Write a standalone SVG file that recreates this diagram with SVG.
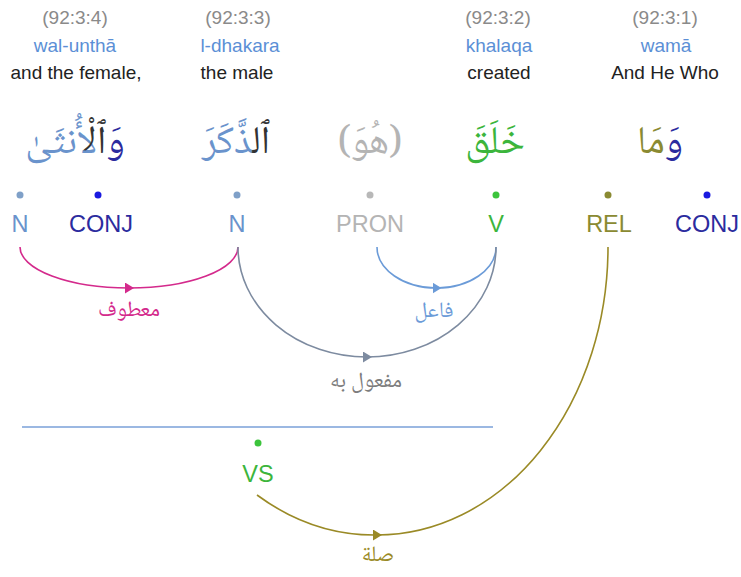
<svg xmlns="http://www.w3.org/2000/svg" width="741" height="577" viewBox="0 0 741 577">
  <style>
    .ref { font-family: "Liberation Sans", Arial, sans-serif; font-size: 19px; fill: #8a8a8a; text-anchor: middle; }
    .tr { font-family: "Liberation Sans", Arial, sans-serif; font-size: 19px; fill: #5b8fd6; text-anchor: middle; }
    .en { font-family: "Liberation Sans", Arial, sans-serif; font-size: 19px; fill: #222; text-anchor: middle; }
    .ar { font-family: "Noto Naskh Arabic", "DejaVu Sans", sans-serif; font-size: 39px; text-anchor: middle; direction: rtl; }
    .tag { font-family: "Liberation Sans", Arial, sans-serif; font-size: 23.5px; text-anchor: middle; }
    .lbl { font-family: "Noto Naskh Arabic", "DejaVu Sans", sans-serif; font-size: 22px; text-anchor: middle; direction: rtl; }
    .arc { fill: none; stroke-width: 1.6; }
    .n { fill: #6a93cc; }
    .conj { fill: #2b2b9e; }
    .pron { fill: #b4b4b4; }
    .v { fill: #3cb53c; }
    .rel { fill: #8a8a32; }
    .art { fill: #333333; }
  </style>
  <defs>
    <marker id="ah-pink" markerWidth="10" markerHeight="12" refX="4" refY="5.5" orient="auto" markerUnits="userSpaceOnUse">
      <path d="M0,0 L9,5.5 L0,11 z" fill="#d42a8c"/>
    </marker>
    <marker id="ah-blue" markerWidth="10" markerHeight="12" refX="4" refY="5.5" orient="auto" markerUnits="userSpaceOnUse">
      <path d="M0,0 L9,5.5 L0,11 z" fill="#6b9bd8"/>
    </marker>
    <marker id="ah-gray" markerWidth="10" markerHeight="12" refX="4" refY="5.5" orient="auto" markerUnits="userSpaceOnUse">
      <path d="M0,0 L9,5.5 L0,11 z" fill="#7d8ba0"/>
    </marker>
    <marker id="ah-olive" markerWidth="10" markerHeight="12" refX="4" refY="5.5" orient="auto" markerUnits="userSpaceOnUse">
      <path d="M0,0 L9,5.5 L0,11 z" fill="#9a8a26"/>
    </marker>
  </defs>

  <rect width="741" height="577" fill="#fff"/>

  <!-- word 4: wal-unthā -->
  <g id="word4">
    <text class="ref" x="75" y="24">(92:3:4)</text>
    <text class="tr" x="75" y="52">wal-unthā</text>
    <text class="en" x="76" y="79">and the female,</text>
    <text class="ar" x="75" y="153"><tspan class="conj">وَ</tspan><tspan class="art">ٱلْ</tspan><tspan class="n">أُنثَىٰ</tspan></text>
  </g>
  <g id="tag-w4-n">
    <circle cx="20" cy="195" r="3.5" fill="#7fa0c8"/>
    <text class="tag n" x="20" y="232">N</text>
  </g>
  <g id="tag-w4-conj">
    <circle cx="98" cy="195" r="3.5" fill="#1a1ae0"/>
    <text class="tag conj" x="101" y="232">CONJ</text>
  </g>

  <!-- word 3: l-dhakara -->
  <g id="word3">
    <text class="ref" x="238" y="24">(92:3:3)</text>
    <text class="tr" x="240" y="52">l-dhakara</text>
    <text class="en" x="237" y="79">the male</text>
    <text class="ar" x="236" y="153"><tspan class="art">ٱل</tspan><tspan class="n">ذَّكَرَ</tspan></text>
  </g>
  <g id="tag-w3-n">
    <circle cx="237" cy="195" r="3.5" fill="#7fa0c8"/>
    <text class="tag n" x="237" y="232">N</text>
  </g>

  <!-- hidden subject pronoun -->
  <g id="pron">
    <text class="ar pron" x="370" y="153">(هُوَ)</text>
    <circle cx="370" cy="195" r="3.5" fill="#b8b8b8"/>
    <text class="tag pron" x="370" y="232">PRON</text>
  </g>

  <!-- word 2: khalaqa -->
  <g id="word2">
    <text class="ref" x="498" y="24">(92:3:2)</text>
    <text class="tr" x="499" y="52">khalaqa</text>
    <text class="en" x="499" y="79">created</text>
    <text class="ar v" x="495" y="153">خَلَقَ</text>
  </g>
  <g id="tag-w2-v">
    <circle cx="496" cy="195" r="3.5" fill="#3cc43c"/>
    <text class="tag v" x="496" y="232">V</text>
  </g>

  <!-- word 1: wamā -->
  <g id="word1">
    <text class="ref" x="665" y="24">(92:3:1)</text>
    <text class="tr" x="666" y="52">wamā</text>
    <text class="en" x="665" y="79">And He Who</text>
    <text class="ar" x="660" y="153"><tspan class="conj">وَ</tspan><tspan class="rel">مَا</tspan></text>
  </g>
  <g id="tag-w1-rel">
    <circle cx="608" cy="195" r="3.5" fill="#8a8a32"/>
    <text class="tag rel" x="609" y="232">REL</text>
  </g>
  <g id="tag-w1-conj">
    <circle cx="707" cy="195" r="3.5" fill="#1a1ae0"/>
    <text class="tag conj" x="707" y="232">CONJ</text>
  </g>

  <!-- verbal sentence node -->
  <g id="vs">
    <line x1="22" y1="427" x2="493" y2="427" stroke="#7aa0d8" stroke-width="1.6"/>
    <circle cx="258" cy="443" r="3.5" fill="#3cc43c"/>
    <text class="tag v" x="258" y="482">VS</text>
  </g>

  <!-- dependency arcs -->
  <g id="connectors">
    <path class="arc" stroke="#d42a8c" marker-mid="url(#ah-pink)" d="M20,247 A109,41 0 0 0 129,288 A109,41 0 0 0 238,247"/>
    <text class="lbl" x="129" y="316" fill="#d42a8c">معطوف</text>

    <path class="arc" stroke="#6b9bd8" marker-mid="url(#ah-blue)" d="M377,247 A59.5,41 0 0 0 436.5,288 A59.5,41 0 0 0 496,247"/>
    <text class="lbl" x="434" y="317" fill="#6b9bd8">فاعل</text>

    <path class="arc" stroke="#7d8ba0" marker-mid="url(#ah-gray)" d="M238,247 A129,110 0 0 0 367,357 A129,110 0 0 0 496,247"/>
    <text class="lbl" x="366" y="387" fill="#7d7d7d">مفعول به</text>

    <path class="arc" stroke="#9a8a26" marker-mid="url(#ah-olive)" d="M257,495 A231,288 0 0 0 377,535 A231,288 0 0 0 608,247"/>
    <text class="lbl" x="378" y="561" fill="#9a8a26" font-size="21">صلة</text>
  </g>
</svg>
